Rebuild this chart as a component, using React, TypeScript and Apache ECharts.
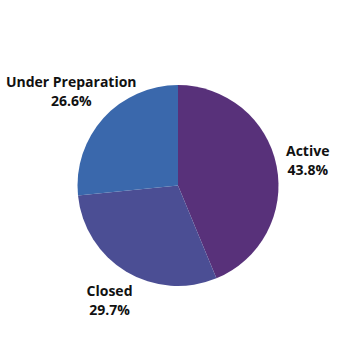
import React, { useEffect, useRef } from "react";
import * as echarts from "echarts";

const categories = ["Active", "Closed", "Under Preparation"];
const values = [43.8, 29.7, 26.6];
const colors = ["#58317a", "#4b4e94", "#3a68ac"];
const labelOffsets = [
  [-1, 0],
  [0, 0],
  [-8, -5],
];

export default function App() {
  const ref = useRef<HTMLDivElement>(null);
  useEffect(() => {
    if (!ref.current) return;
    const chart = echarts.init(ref.current, null, { renderer: "svg" });
    const data = categories.map((name, i) => ({
      name,
      value: values[i],
      itemStyle: { color: colors[i] },
    }));
    const labelData = categories.map((name, i) => ({ name, value: values[i] }));
    chart.setOption({
      animation: false,
      backgroundColor: "#ffffff",
      series: [
        {
          type: "pie",
          center: [178, 185.5],
          radius: [0, 100.5],
          startAngle: 90,
          clockwise: true,
          silent: true,
          avoidLabelOverlap: false,
          label: { show: false },
          labelLine: { show: false },
          itemStyle: { borderWidth: 0 },
          data,
        },
        {
          type: "pie",
          center: [178, 185.5],
          radius: [100.5, 160],
          startAngle: 90,
          clockwise: true,
          silent: true,
          avoidLabelOverlap: false,
          itemStyle: { color: "transparent", borderWidth: 0 },
          emphasis: { disabled: true },
          labelLine: { show: false },
          label: {
            show: true,
            position: "inside",
            formatter: (p: any) => `{a|${p.name}}\n{a|${p.value.toFixed(1)}%}`,
            rich: {
              a: {
                align: "center",
                fontFamily: "Open Sans",
                fontWeight: "bold",
                fontSize: 14,
                lineHeight: 19,
                color: "#111111",
              },
            },
          },
          labelLayout: (params: any) => ({
            dx: labelOffsets[params.dataIndex][0],
            dy: labelOffsets[params.dataIndex][1],
          }),
          data: labelData,
        },
      ],
    });
    return () => chart.dispose();
  }, []);
  return (
    <div
      ref={ref}
      style={{ position: "absolute", left: 0, top: 0, width: 350, height: 350 }}
    />
  );
}
